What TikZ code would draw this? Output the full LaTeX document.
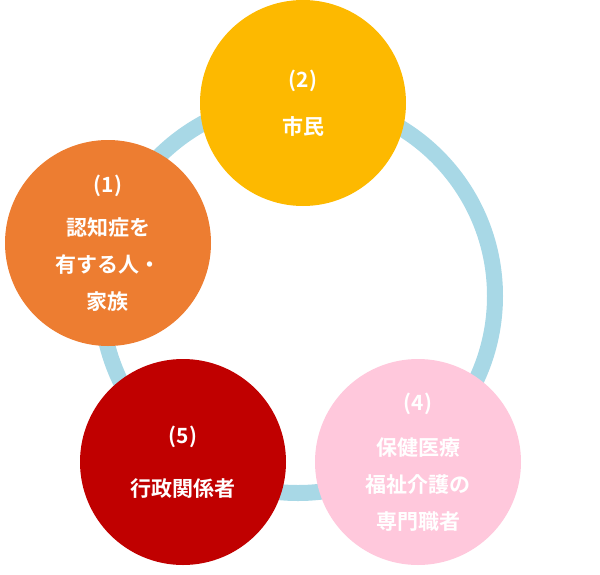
\documentclass[tikz,border=0pt]{standalone}
\usepackage{fontspec}
\newfontfamily\cjk[BoldFont={Noto Sans CJK JP Bold}]{Noto Sans CJK JP}
\begin{document}
\begin{tikzpicture}[x=1pt,y=-1pt,
  bub/.style={circle,minimum size=206pt,inner sep=0pt,align=center,text=white,font=\cjk\bfseries\fontsize{21}{37}\selectfont}]
\useasboundingbox (0,0) rectangle (600,574);
\draw[line width=16pt,color={rgb,255:red,168;green,216;blue,230}] (298,296) circle (197);
\node[bub,fill={rgb,255:red,253;green,185;blue,0}] (c2) at (303,103) {(2)\\[10pt]市民};
\node[bub,fill={rgb,255:red,237;green,125;blue,49}] (c1) at (108,243) {(1)\\[6pt]認知症を\\有する人・\\家族};
\node[bub,fill={rgb,255:red,192;green,0;blue,0}] (c5) at (183,462) {(5)\\[16pt]行政関係者};
\node[bub,fill={rgb,255:red,255;green,200;blue,220}] (c4) at (418,462) {(4)\\[8pt]保健医療\\福祉介護の\\専門職者};
\end{tikzpicture}
\end{document}
